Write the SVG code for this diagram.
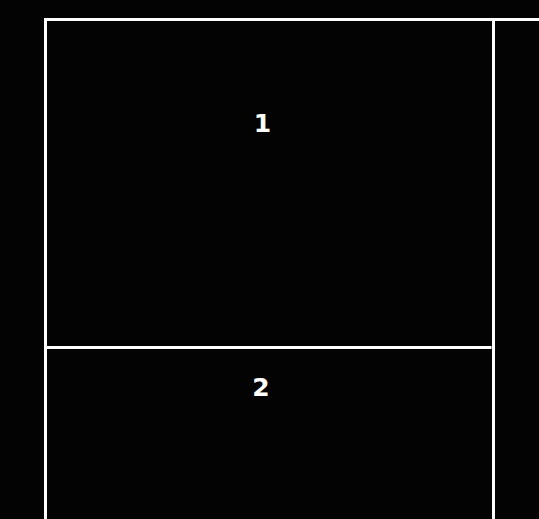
<svg xmlns="http://www.w3.org/2000/svg" width="539" height="519" viewBox="0 0 539 519">
<style>
.ln{stroke:#ffffff;stroke-width:3;fill:none}
.lbl{font-family:"DejaVu Sans",sans-serif;font-weight:bold;font-size:25px;fill:#ffffff;text-anchor:middle}
</style>
<rect x="0" y="0" width="539" height="519" fill="#030303"/>
<g id="connectors"></g>
<g id="frame">
<line class="ln" x1="44" y1="19.5" x2="539" y2="19.5"/>
<line class="ln" x1="45.5" y1="18" x2="45.5" y2="519"/>
<line class="ln" x1="493.5" y1="21" x2="493.5" y2="519"/>
</g>
<g id="node-1">
<line class="ln" x1="47" y1="347.5" x2="491.5" y2="347.5"/>
<text class="lbl" x="262.5" y="131.5">1</text>
</g>
<g id="node-2">
<text class="lbl" x="261" y="396">2</text>
</g>
</svg>
